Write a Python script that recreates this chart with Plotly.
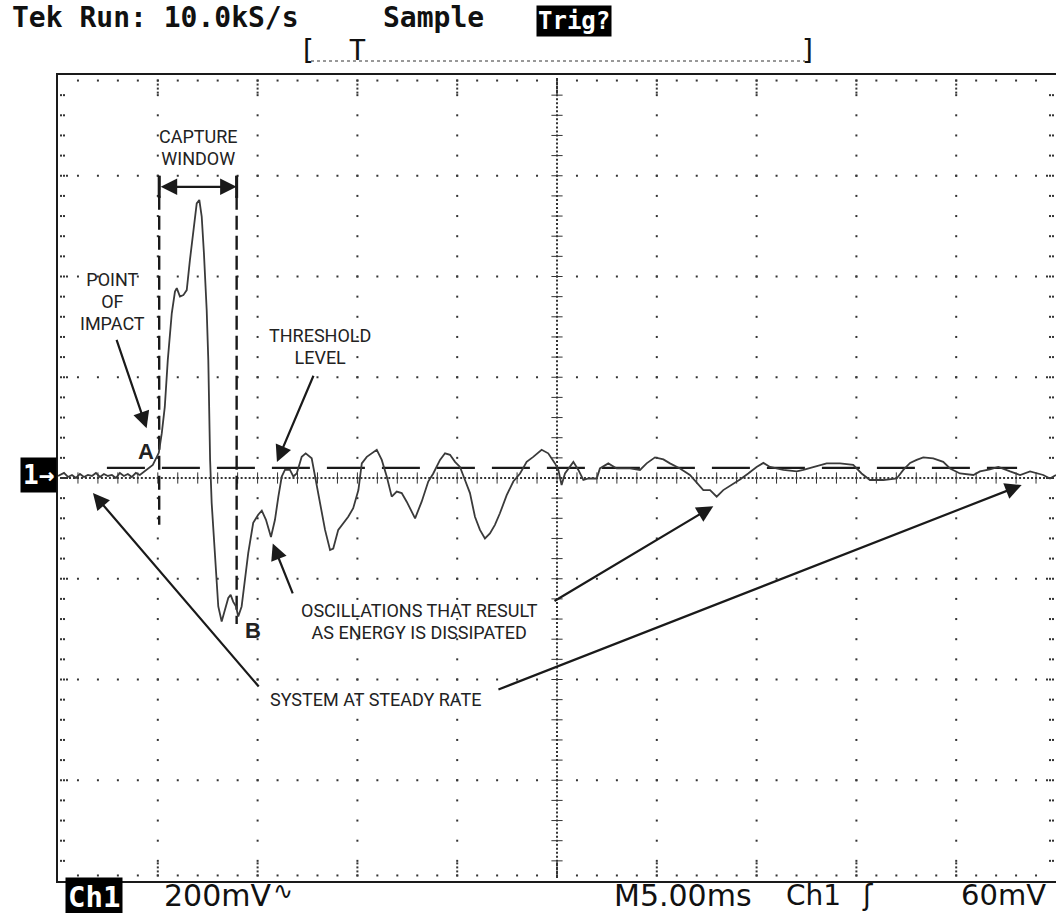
import numpy as np
import plotly.graph_objects as go

# ---- Channel 1 record (time in ms, amplitude in mV) ----
# Scope setup: 5 ms/div horizontally, 200 mV/div vertically, 10 x 8 divisions
pre_t = [0.0, 0.3, 0.5, 0.7, 0.9, 1.1, 1.3, 1.5, 1.7, 1.9, 2.1, 2.3, 2.5, 2.7,
         2.9, 3.1, 3.3, 3.5, 3.7, 3.9, 4.1, 4.3, 4.5]
pre_mv = [4, 10, 2, 6, 0, 8, 2, 6, 4, 10, 2, 8, 4, 6,
          0, 10, 4, 8, 2, 10, 6, 12, 18]

pulse_t = [4.75, 5.05, 5.2, 5.35, 5.5, 5.7, 5.86, 5.95, 6.11, 6.28, 6.45, 6.61,
           6.81, 6.95, 7.08, 7.2, 7.31, 7.45, 7.53, 7.62, 7.7, 7.87, 8.03, 8.2,
           8.37, 8.53, 8.65, 8.78, 8.92, 9.03, 9.2]
pulse_mv = [26, 50, 89, 141, 234, 327, 370, 377, 360, 363, 373, 433,
            499, 545, 552, 519, 447, 333, 234, 36, -50, -163, -255, -285,
            -262, -238, -232, -246, -255, -275, -255]

ring_t = [9.37, 9.53, 9.78, 10.03, 10.21, 10.42, 10.67, 10.87, 11.04, 11.21,
          11.37, 11.62, 11.79, 11.96, 12.21, 12.41, 12.71, 12.88, 13.13, 13.38,
          13.63, 13.79, 14.04, 14.29, 14.54, 14.79, 15.05, 15.22, 15.47, 15.97,
          16.22, 16.47, 16.72, 16.97, 17.22, 17.47, 17.89, 18.22, 18.55, 18.8,
          19.14, 19.39, 19.64, 19.89, 20.14, 20.39, 20.64, 20.89, 21.14, 21.39,
          21.64, 21.89, 22.14, 22.48, 22.81, 23.15, 23.48, 23.81, 24.23, 24.56,
          24.9, 25.07]
ring_mv = [-202, -149, -89, -73, -65, -83, -117, -83, -37, 3,
           16, 16, 3, 9, 42, 49, 39, 3, -44, -103,
           -143, -140, -103, -90, -77, -60, -24, 29, 42, 56,
           36, 3, -37, -27, -30, -47, -80, -47, -7, 9,
           36, 49, 46, 32, 22, -4, -30, -77, -103, -120,
           -110, -93, -70, -34, -7, 9, 32, 42, 56, 49,
           29, 16]

settle_t = [25.23, 25.4, 25.82, 26.07, 26.32, 26.57, 26.99, 27.15, 27.57, 27.99,
            28.66, 29.16, 29.49, 29.91, 30.33, 30.66, 31.16, 31.66, 32.08, 32.33,
            32.67, 33.0, 33.33, 33.75, 34.17, 34.58, 35.0, 35.34, 35.67, 36.34,
            37.01, 37.34, 37.84, 38.51, 39.18, 39.84, 40.26, 40.68, 41.35, 42.02,
            42.35, 42.69, 43.02, 43.35, 43.85, 44.35, 44.69, 45.19, 45.86, 46.19,
            46.69, 47.11, 47.7, 48.2, 48.7, 49.36, 49.7, 50.0]
settle_mv = [-14, 9, 32, 16, -4, -1, -1, 19, 29, 19,
             19, 16, 29, 41, 37, 29, 19, 6, -14, -24,
             -24, -37, -24, -14, -3, 9, 22, 30, 22, 16,
             13, 16, 22, 29, 29, 26, 9, -4, -4, -1,
             16, 30, 36, 41, 39, 32, 19, 9, 6, 13,
             17, 22, 13, 6, 13, 6, -1, 6]

time_ms = pre_t + pulse_t + ring_t + settle_t
ch1_mv = pre_mv + pulse_mv + ring_mv + settle_mv

THRESHOLD_MV = 20
THRESHOLD_SPAN_MS = [2.45, 48.05]
WINDOW_START_MS = 5.07
WINDOW_END_MS = 8.95

T_FULL = 50.0      # 10 divisions x 5 ms
V_HALF = 800.0     # 4 divisions x 200 mV
DIV_T, DIV_V = 5.0, 200.0
MINOR_T, MINOR_V = 1.0, 40.0

INK = "#1a1a1a"
# line pitch comes from the outer size, glyphs are drawn at the inner span size
LABEL_FONT = dict(family="Roboto, Liberation Sans, Arial, sans-serif", size=17, color="#222")
LABEL_PX = 18
MONO = "DejaVu Sans Mono, monospace"
SANS = "DejaVu Sans, sans-serif"

fig = go.Figure()

# ---- graticule: dotted major lines, dense centre cross, edge ticks ----
minor_t = np.arange(MINOR_T, T_FULL, MINOR_T)
minor_v = np.arange(-V_HALF + MINOR_V, V_HALF, MINOR_V)
major_t = [t for t in np.arange(DIV_T, T_FULL, DIV_T) if t != T_FULL / 2]
major_v = [v for v in np.arange(-V_HALF + DIV_V, V_HALF, DIV_V) if v != 0]

gx, gy = [], []
for v in major_v:
    gx += list(minor_t); gy += [v] * len(minor_t)
for t in major_t:
    gx += [t] * len(minor_v); gy += list(minor_v)
# centre cross, densely dotted
dense_t = np.arange(0.2, T_FULL, 0.2)
dense_v = np.arange(-V_HALF + 8, V_HALF, 8)
gx += list(dense_t); gy += [0] * len(dense_t)
gx += [T_FULL / 2] * len(dense_v); gy += list(dense_v)
# edge ticks
for v_edge, sgn in [(V_HALF, -1), (-V_HALF, 1)]:
    gx += list(minor_t); gy += [v_edge + sgn * 11] * len(minor_t)
    for t in list(major_t) + [T_FULL / 2]:
        gx += [t] * 4; gy += [v_edge + sgn * k for k in (11, 19, 27, 35)]
for t_edge, sgn in [(0.0, 1), (T_FULL, -1)]:
    for dt in (0.15, 0.3):
        gx += [t_edge + sgn * dt] * len(minor_v); gy += list(minor_v)
    for v in list(major_v) + [0]:
        gx += [t_edge + sgn * 0.45]; gy += [v]

fig.add_trace(go.Scatter(x=gx, y=gy, mode="markers", hoverinfo="skip",
                         marker=dict(symbol="square", size=2, color="#333", line_width=0)))
# tick marks crossing the centre lines
fig.add_trace(go.Scatter(x=minor_t, y=[0] * len(minor_t), mode="markers", hoverinfo="skip",
                         marker=dict(symbol="line-ns", size=8, line=dict(width=1, color="#333"))))
fig.add_trace(go.Scatter(x=[T_FULL / 2] * len(minor_v), y=minor_v, mode="markers", hoverinfo="skip",
                         marker=dict(symbol="line-ew", size=8, line=dict(width=1, color="#333"))))

# ---- threshold level and capture window ----
fig.add_trace(go.Scatter(x=THRESHOLD_SPAN_MS, y=[THRESHOLD_MV] * 2, mode="lines", hoverinfo="skip",
                         line=dict(color=INK, width=2.2, dash="38px,17px")))
fig.add_trace(go.Scatter(x=[WINDOW_START_MS] * 2, y=[600, -93], mode="lines", hoverinfo="skip",
                         line=dict(color=INK, width=2.4, dash="14px,6px")))
fig.add_trace(go.Scatter(x=[WINDOW_END_MS] * 2, y=[600, -290], mode="lines", hoverinfo="skip",
                         line=dict(color=INK, width=2.4, dash="14px,6px")))
for t in (WINDOW_START_MS, WINDOW_END_MS):
    fig.add_trace(go.Scatter(x=[t, t], y=[600, 556], mode="lines", hoverinfo="skip",
                             line=dict(color=INK, width=3)))

# ---- the acquired waveform ----
fig.add_trace(go.Scatter(x=time_ms, y=ch1_mv, mode="lines", hoverinfo="skip",
                         line=dict(color="#3a3a3a", width=1.8)))

ann = []


def label(lines, t, v, **kw):
    body = "<br>".join(f'<span style="font-size:{LABEL_PX}px">{s}</span>' for s in lines)
    d = dict(x=t, y=v, xref="x", yref="y", text=body, showarrow=False,
             font=LABEL_FONT, xanchor="center", yanchor="middle", align="center")
    d.update(kw)
    ann.append(d)


def arrow(tip, tail, both=False):
    ann.append(dict(x=tip[0], y=tip[1], ax=tail[0], ay=tail[1], xref="x", yref="y",
                    axref="x", ayref="y", text="", showarrow=True, arrowhead=2,
                    arrowsize=1.5, arrowwidth=2.2, arrowcolor=INK,
                    arrowside="end+start" if both else "end"))


label(["CAPTURE", "WINDOW"], 7.06, 656)
label(["POINT", "OF", "IMPACT"], 2.71, 350)
label(["THRESHOLD", "LEVEL"], 13.13, 262)
label(["OSCILLATIONS THAT RESULT", "AS ENERGY IS DISSIPATED"], 18.11, -284)
label(["SYSTEM AT STEADY RATE"], 15.93, -439)
bold_font = dict(family="Liberation Sans, Arial, sans-serif", size=22, color="#222")
ann.append(dict(x=4.41, y=52, xref="x", yref="y", text="<b>A</b>", showarrow=False, font=bold_font))
ann.append(dict(x=9.75, y=-303, xref="x", yref="y", text="<b>B</b>", showarrow=False, font=bold_font))

arrow((WINDOW_END_MS, 578), (WINDOW_START_MS, 578), both=True)
arrow((4.44, 99), (2.91, 277))
arrow((10.97, 32), (12.83, 206))
arrow((10.76, -130), (11.79, -232))
arrow((32.83, -56), (24.8, -246))
arrow((1.75, -30), (10.12, -417))
arrow((48.28, -14), (21.99, -421))

# ---- scope readouts around the graticule (page pixel positions) ----
W, H = 1058, 913
L, R, T, B = 58, 2, 75, 32
PW, PH = W - L - R, H - T - B


def px(x):
    return (x - L) / PW


def py(y):
    return (H - B - y) / PH


def readout(text, x, y, size, anchor="left", family=MONO, color="#111", weight=None, **kw):
    font = dict(family=family, size=size, color=color)
    if weight:
        font["weight"] = weight
    d = dict(x=px(x), y=py(y), xref="paper", yref="paper", text=text, showarrow=False,
             xanchor=anchor, yanchor="middle", font=font)
    d.update(kw)
    ann.append(d)


readout("Tek Run: 10.0kS/s", 10, 18, 28, weight=600)
readout("Sample", 381, 18, 28, weight=600)
readout("<b>Trig?</b>", 574, 21, 24, anchor="center", bgcolor="black", borderpad=1, color="white")
readout("[", 307, 51, 28, anchor="center")
readout("]", 808, 50, 28, anchor="center")
readout("T", 357, 51, 28, anchor="center")
readout("<b>Ch1</b>", 94, 897, 29, anchor="center", bgcolor="black", borderpad=2, color="white")
readout("200mV", 162, 895, 30, family=SANS)
readout("∿", 271, 891, 24, family=SANS)
readout("M5.00ms", 612, 895, 30, family=SANS)
readout("Ch1", 784, 895, 28, family=SANS)
readout("ʃ", 867, 895, 28, anchor="center", family=SANS)
readout("60mV", 959, 895, 29, family=SANS)
readout("<b>1→</b>", 57, 475, 26, anchor="right", bgcolor="black", borderpad=2, color="white")

fig.update_layout(
    width=W, height=H,
    margin=dict(l=L, r=R, t=T, b=B, pad=0),
    paper_bgcolor="white", plot_bgcolor="white",
    showlegend=False,
    annotations=ann,
    shapes=[dict(type="line", xref="paper", yref="paper", x0=px(311), x1=px(805),
                 y0=py(61), y1=py(61), line=dict(color="#333", width=1, dash="dot"))],
    xaxis=dict(range=[0, T_FULL], showgrid=False, zeroline=False, showticklabels=False,
               ticks="", showline=True, linewidth=2, linecolor=INK, mirror=True, fixedrange=True),
    yaxis=dict(range=[-V_HALF, V_HALF], showgrid=False, zeroline=False, showticklabels=False,
               ticks="", showline=True, linewidth=2, linecolor=INK, mirror=False, fixedrange=True),
)

fig.write_html("out.html")
